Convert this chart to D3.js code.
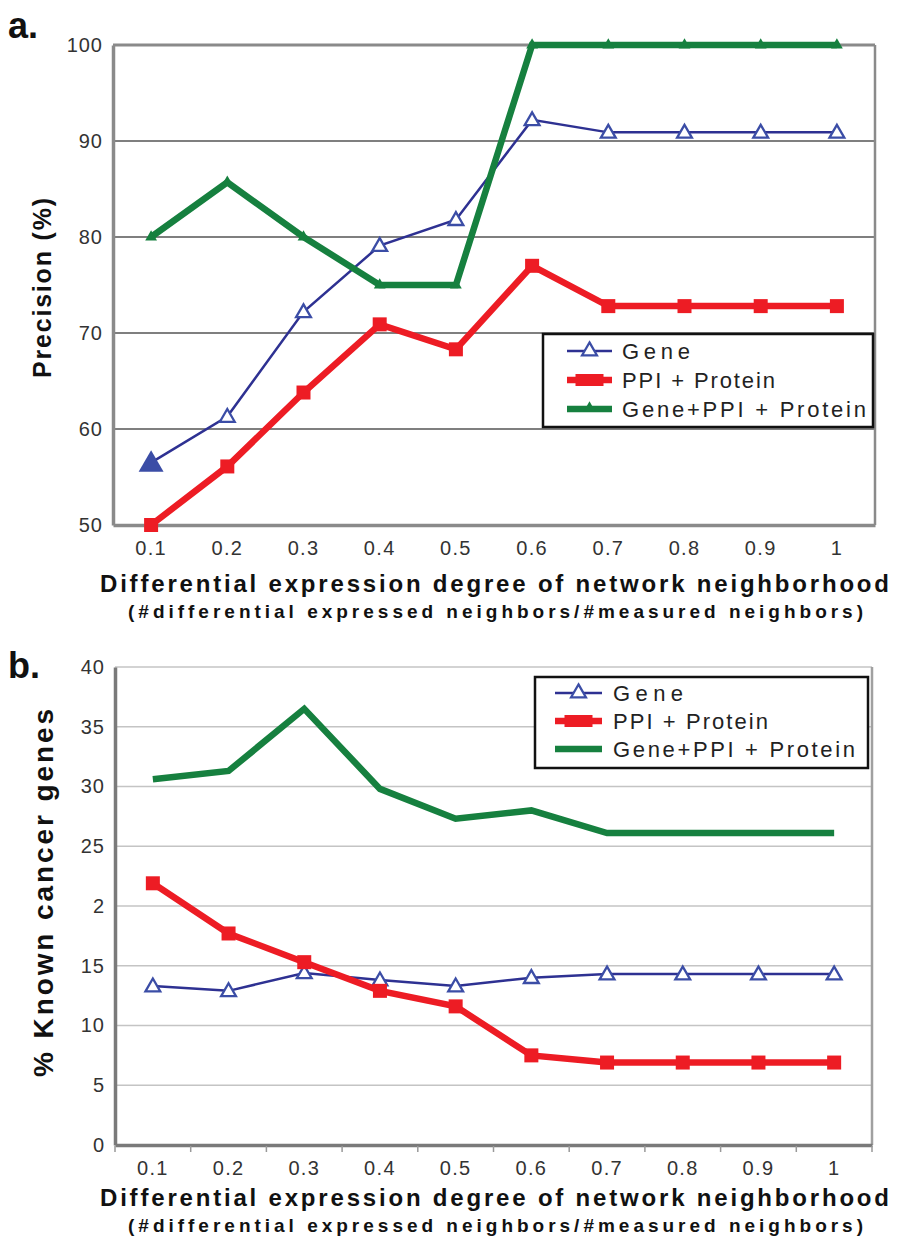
<!DOCTYPE html>
<html>
<head>
<meta charset="utf-8">
<script src="https://cdn.jsdelivr.net/npm/d3@7"></script>
<style>
  html, body { margin: 0; padding: 0; background: #fff; }
  svg { display: block; font-family: "Liberation Sans", Arial, sans-serif; }
</style>
</head>
<body>
<svg id="fig" width="897" height="1240"></svg>
<script>
// Categories: differential expression degree of the network neighborhood
const degrees = ["0.1", "0.2", "0.3", "0.4", "0.5", "0.6", "0.7", "0.8", "0.9", "1"];

// Panel a: precision (%)
const precisionGene     = [56.5, 61.3, 72.2, 79.1, 81.8, 92.2, 90.9, 90.9, 90.9, 90.9];
const precisionPPI      = [50.0, 56.1, 63.8, 70.9, 68.3, 77.0, 72.8, 72.8, 72.8, 72.8];
const precisionCombined = [80.0, 85.7, 80.0, 75.0, 75.0, 100, 100, 100, 100, 100];
const precisionTicks      = [50, 60, 70, 80, 90, 100];
const precisionTickLabels = ["50", "60", "70", "80", "90", "100"];

// Panel b: % known cancer genes
const cancerGene     = [13.3, 12.9, 14.4, 13.8, 13.3, 14.0, 14.3, 14.3, 14.3, 14.3];
const cancerPPI      = [21.9, 17.7, 15.3, 12.9, 11.6, 7.5, 6.9, 6.9, 6.9, 6.9];
const cancerCombined = [30.6, 31.3, 36.5, 29.8, 27.3, 28.0, 26.1, 26.1, 26.1, 26.1];
const cancerTicks      = [0, 5, 10, 15, 20, 25, 30, 35, 40];
const cancerTickLabels = ["0", "5", "10", "15", "2", "25", "30", "35", "40"];

const seriesNames = ["Gene", "PPI + Protein", "Gene+PPI + Protein"];

const BLUE = "#2e3192", BLUE_MARK = "#3b4da6", RED = "#ed1c24", GREEN = "#16803f";

const svg = d3.select("#fig");

function drawMarker(g, kind, x, y) {
  if (kind === "triOpen") {
    g.append("path").attr("d", d3.symbol(d3.symbolTriangle, 95)())
      .attr("transform", `translate(${x},${y + 1})`)
      .attr("fill", "#fff").attr("stroke", BLUE_MARK).attr("stroke-width", 2.3);
  } else if (kind === "triBig") {
    g.append("path").attr("d", d3.symbol(d3.symbolTriangle, 270)())
      .attr("transform", `translate(${x},${y + 2})`)
      .attr("fill", BLUE_MARK);
  } else if (kind === "square") {
    g.append("rect").attr("x", x - 7).attr("y", y - 7).attr("width", 14).attr("height", 14)
      .attr("fill", RED);
  } else if (kind === "triSmall") {
    g.append("path").attr("d", d3.symbol(d3.symbolTriangle, 60)())
      .attr("transform", `translate(${x},${y})`)
      .attr("fill", GREEN);
  }
}

function drawPanel(cfg) {
  const x = d3.scaleBand().domain(degrees).range([cfg.left, cfg.right]).padding(0);
  const y = d3.scaleLinear().domain(cfg.yDomain).range([cfg.bottom, cfg.top]);
  const g = svg.append("g");

  // horizontal gridlines
  g.append("g").selectAll("line").data(cfg.yTicks.filter(v => v !== cfg.yDomain[0]))
    .join("line")
    .attr("x1", cfg.left).attr("x2", cfg.right)
    .attr("y1", d => y(d)).attr("y2", d => y(d))
    .attr("stroke", cfg.gridColor).attr("stroke-width", cfg.gridWidth);

  // frame
  g.append("line").attr("x1", cfg.right).attr("x2", cfg.right)
    .attr("y1", cfg.top).attr("y2", cfg.bottom)
    .attr("stroke", cfg.rightColor).attr("stroke-width", 2.5);
  if (cfg.topFrame) {
    g.append("line").attr("x1", cfg.left).attr("x2", cfg.right)
      .attr("y1", cfg.top).attr("y2", cfg.top)
      .attr("stroke", cfg.frameColor).attr("stroke-width", 3);
  }

  // y axis
  const yAxis = d3.axisLeft(y).tickValues(cfg.yTicks)
    .tickFormat((d, i) => cfg.yTickLabels[i]).tickSize(0).tickPadding(10);
  const ya = g.append("g").attr("transform", `translate(${cfg.left},0)`).call(yAxis);
  ya.select(".domain").attr("stroke", cfg.frameColor).attr("stroke-width", 3.5);
  ya.selectAll("text").attr("font-size", 20).attr("fill", "#333")
    .attr("font-family", "Liberation Sans, Arial, sans-serif").attr("letter-spacing", 1);

  // x axis
  const xAxis = d3.axisBottom(x).tickSize(0).tickPadding(cfg.xTickPad);
  const xa = g.append("g").attr("transform", `translate(0,${cfg.bottom})`).call(xAxis);
  xa.select(".domain").attr("stroke", cfg.frameColor).attr("stroke-width", 3.5);
  xa.selectAll("text").attr("font-size", 20).attr("fill", "#333")
    .attr("font-family", "Liberation Sans, Arial, sans-serif").attr("letter-spacing", 1.3);
  if (cfg.bandTicks) {
    xa.append("g").selectAll("line").data(degrees.slice(1).concat(["end"]))
      .join("line")
      .attr("x1", (d, i) => i < degrees.length - 1 ? x(d) : cfg.right)
      .attr("x2", (d, i) => i < degrees.length - 1 ? x(d) : cfg.right)
      .attr("y1", 1).attr("y2", 7)
      .attr("stroke", "#999").attr("stroke-width", 1.5);
    xa.append("line").attr("x1", cfg.left).attr("x2", cfg.left).attr("y1", 1).attr("y2", 7)
      .attr("stroke", "#999").attr("stroke-width", 1.5);
  }

  // series lines and markers
  const cx = d => x(d) + x.bandwidth() / 2;
  cfg.series.forEach(s => {
    const line = d3.line().x((v, i) => cx(degrees[i])).y(v => y(v));
    g.append("path").datum(s.values).attr("d", line)
      .attr("fill", "none").attr("stroke", s.color).attr("stroke-width", s.width)
      .attr("stroke-linejoin", "miter").attr("stroke-miterlimit", 3);
    if (s.marker) {
      s.values.forEach((v, i) => {
        const kind = (s.firstMarker && i === 0) ? s.firstMarker : s.marker;
        drawMarker(g, kind, cx(degrees[i]), y(v));
      });
    }
  });

  // legend
  const L = cfg.legend;
  const lg = g.append("g");
  lg.append("rect").attr("x", L.x).attr("y", L.y).attr("width", L.w).attr("height", L.h)
    .attr("fill", "#fff").attr("stroke", "#111").attr("stroke-width", 2.5);
  cfg.series.forEach((s, i) => {
    const ly = L.y + L.first + i * L.step;
    lg.append("line").attr("x1", L.lineX0).attr("x2", L.lineX1).attr("y1", ly).attr("y2", ly)
      .attr("stroke", s.color).attr("stroke-width", s.width);
    if (s.marker) {
      const mx = (L.lineX0 + L.lineX1) / 2;
      if (s.marker === "square") {
        lg.append("rect").attr("x", mx - 14).attr("y", ly - 6).attr("width", 28).attr("height", 12)
          .attr("fill", RED);
      } else {
        drawMarker(lg, s.marker, mx, ly - 1);
      }
    }
    lg.append("text").attr("x", L.textX).attr("y", ly + 8)
      .attr("font-size", 22).attr("fill", "#222")
      .attr("textLength", L.textLen[i]).attr("lengthAdjust", "spacing")
      .text(seriesNames[i]);
  });

  // panel letter
  svg.append("text").attr("x", 8).attr("y", cfg.letterY)
    .attr("font-size", 36).attr("font-weight", "bold").attr("fill", "#111")
    .text(cfg.letter);

  // y title
  svg.append("text")
    .attr("transform", `translate(${cfg.yTitleX},${cfg.yTitleY}) rotate(-90)`)
    .attr("text-anchor", "middle").attr("font-size", cfg.yTitleSize).attr("font-weight", "bold")
    .attr("fill", "#111").attr("textLength", cfg.yTitleLen).attr("lengthAdjust", "spacing")
    .text(cfg.yTitle);

  // x titles
  svg.append("text").attr("x", 100).attr("y", cfg.xTitleY)
    .attr("font-size", 24).attr("font-weight", "bold").attr("fill", "#111")
    .attr("textLength", 789).attr("lengthAdjust", "spacing")
    .text("Differential expression degree of network neighborhood");
  svg.append("text").attr("x", 128).attr("y", cfg.xTitleY + 26)
    .attr("font-size", 19).attr("font-weight", "bold").attr("fill", "#111")
    .attr("textLength", 735).attr("lengthAdjust", "spacing")
    .text("(#differential expressed neighbors/#measured neighbors)");
}

// Panel a
drawPanel({
  letter: "a.", letterY: 38,
  left: 113, right: 875, top: 45, bottom: 525,
  yDomain: [50, 100], yTicks: precisionTicks, yTickLabels: precisionTickLabels,
  gridColor: "#555", gridWidth: 1.6, frameColor: "#8a8a8a", rightColor: "#8a8a8a",
  topFrame: true, bandTicks: false, xTickPad: 16,
  yTitle: "Precision (%)", yTitleX: 51, yTitleY: 288, yTitleSize: 25, yTitleLen: 180,
  xTitleY: 592,
  series: [
    { values: precisionGene, color: BLUE, width: 2.5, marker: "triOpen", firstMarker: "triBig" },
    { values: precisionPPI, color: RED, width: 6.5, marker: "square" },
    { values: precisionCombined, color: GREEN, width: 6.5, marker: "triSmall" }
  ],
  legend: { x: 543, y: 334, w: 330, h: 93, first: 17, step: 29, lineX0: 567, lineX1: 612,
            textX: 622, textLen: [68, 153, 244] }
});

// Panel b
drawPanel({
  letter: "b.", letterY: 678,
  left: 115, right: 872, top: 667, bottom: 1145,
  yDomain: [0, 40], yTicks: cancerTicks, yTickLabels: cancerTickLabels,
  gridColor: "#c4c4c4", gridWidth: 1.6, frameColor: "#7a7a7a", rightColor: "#a0a0a0",
  topFrame: false, bandTicks: true, xTickPad: 16,
  yTitle: "% Known cancer genes", yTitleX: 53, yTitleY: 893, yTitleSize: 28, yTitleLen: 368,
  xTitleY: 1206,
  series: [
    { values: cancerGene, color: BLUE, width: 2.5, marker: "triOpen" },
    { values: cancerPPI, color: RED, width: 6.5, marker: "square" },
    { values: cancerCombined, color: GREEN, width: 6.5, marker: null }
  ],
  legend: { x: 535, y: 677, w: 333, h: 91, first: 16, step: 28, lineX0: 555, lineX1: 602,
            textX: 613, textLen: [70, 155, 242] }
});
</script>
</body>
</html>
